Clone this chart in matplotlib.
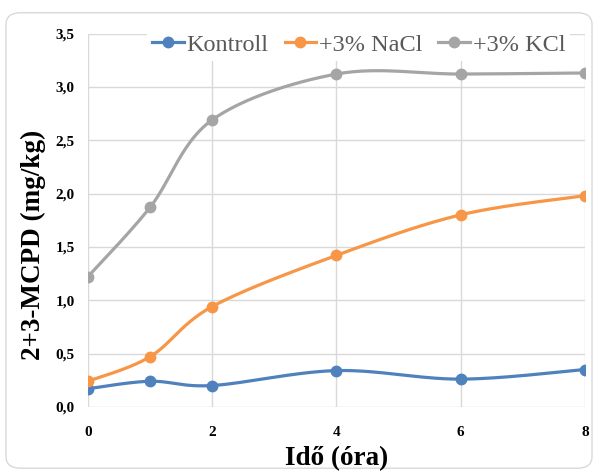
import numpy as np
import matplotlib
matplotlib.use('Agg')
from matplotlib import pyplot as plt
from matplotlib.patches import FancyBboxPatch

plt.rcParams['font.family'] = ['Liberation Serif', 'DejaVu Serif']

# data
ido = [0, 1, 2, 4, 6, 8]
kontroll = [0.17, 0.24, 0.20, 0.34, 0.26, 0.35]
nacl = [0.24, 0.47, 0.94, 1.42, 1.80, 1.98]
kcl = [1.22, 1.87, 2.69, 3.12, 3.12, 3.13]
nevek = ['Kontroll', '+3% NaCl', '+3% KCl']
szinek = ['#4F81BD', '#F79646', '#A5A5A5']
yticks = [0.0, 0.5, 1.0, 1.5, 2.0, 2.5, 3.0, 3.5]
xticks = [0, 2, 4, 6, 8]


def smooth(x, y, n=30):
    # excel-like smoothed line (catmull-rom bezier through the points)
    x = np.asarray(x, float)
    y = np.asarray(y, float)
    px = np.concatenate([[x[0]], x, [x[-1]]])
    py = np.concatenate([[y[0]], y, [y[-1]]])
    xs, ys = [], []
    for i in range(1, len(px) - 2):
        p0 = np.array([px[i], py[i]])
        p3 = np.array([px[i + 1], py[i + 1]])
        p1 = p0 + (np.array([px[i + 1], py[i + 1]]) - np.array([px[i - 1], py[i - 1]])) / 6
        p2 = p3 - (np.array([px[i + 2], py[i + 2]]) - np.array([px[i], py[i]])) / 6
        t = np.linspace(0, 1, n)[:, None]
        b = (1 - t) ** 3 * p0 + 3 * (1 - t) ** 2 * t * p1 + 3 * (1 - t) * t ** 2 * p2 + t ** 3 * p3
        xs.extend(b[:, 0])
        ys.extend(b[:, 1])
    return xs, ys


fig = plt.figure(figsize=(5.98, 4.72), dpi=100)
keret = FancyBboxPatch((0.010, 0.008), 0.98, 0.965, boxstyle='round,pad=0,rounding_size=0.025',
                       transform=fig.transFigure, fc='white', ec='#D9D9D9', lw=1.0, zorder=-5)
fig.patches.append(keret)
ax = fig.add_axes([0.147, 0.138, 0.831, 0.791])
ax.patch.set_alpha(0)

for ser, nev, sz in zip([kontroll, nacl, kcl], nevek, szinek):
    sx, sy = smooth(ido, ser)
    ax.plot(sx, sy, color=sz, lw=2.3, zorder=3)
    ax.plot(ido, ser, 'o', color=sz, ms=7.5, zorder=4)
    ax.plot([], [], '-o', color=sz, lw=2.3, ms=7.5, label=nev)

ax.set_xlim(0, 8)
ax.set_ylim(0, 3.5)
ax.set_xticks(xticks)
ax.set_yticks(yticks)
ax.set_yticklabels([('%.1f' % v).replace('.', ',') for v in yticks])
ax.grid(True, color='#D9D9D9', lw=1.0, zorder=0)
ax.set_axisbelow(True)
for s in ax.spines.values():
    s.set_visible(False)
ax.tick_params(length=0, labelsize=11)
ax.tick_params(axis='y', pad=9.5)
ax.tick_params(axis='x', pad=14)
for lab in ax.get_xticklabels() + ax.get_yticklabels():
    lab.set_fontweight('bold')

ax.set_ylabel('2+3-MCPD (mg/kg)', fontsize=19.5, fontweight='bold')
ax.yaxis.set_label_coords(-0.085, 0.434)
ax.set_xlabel('Idő (óra)', fontsize=19.5, fontweight='bold', labelpad=5)

leg = ax.legend(loc='center', bbox_to_anchor=(0.545, 0.97), ncol=3, fontsize=17.5,
                frameon=True, framealpha=1, edgecolor='none', facecolor='white',
                handlelength=1.3, handletextpad=0.12, columnspacing=0.65, borderpad=0.2)
for t in leg.get_texts():
    t.set_color('#595959')
leg.set_zorder(5)

plt.savefig('out.png', dpi=100)
